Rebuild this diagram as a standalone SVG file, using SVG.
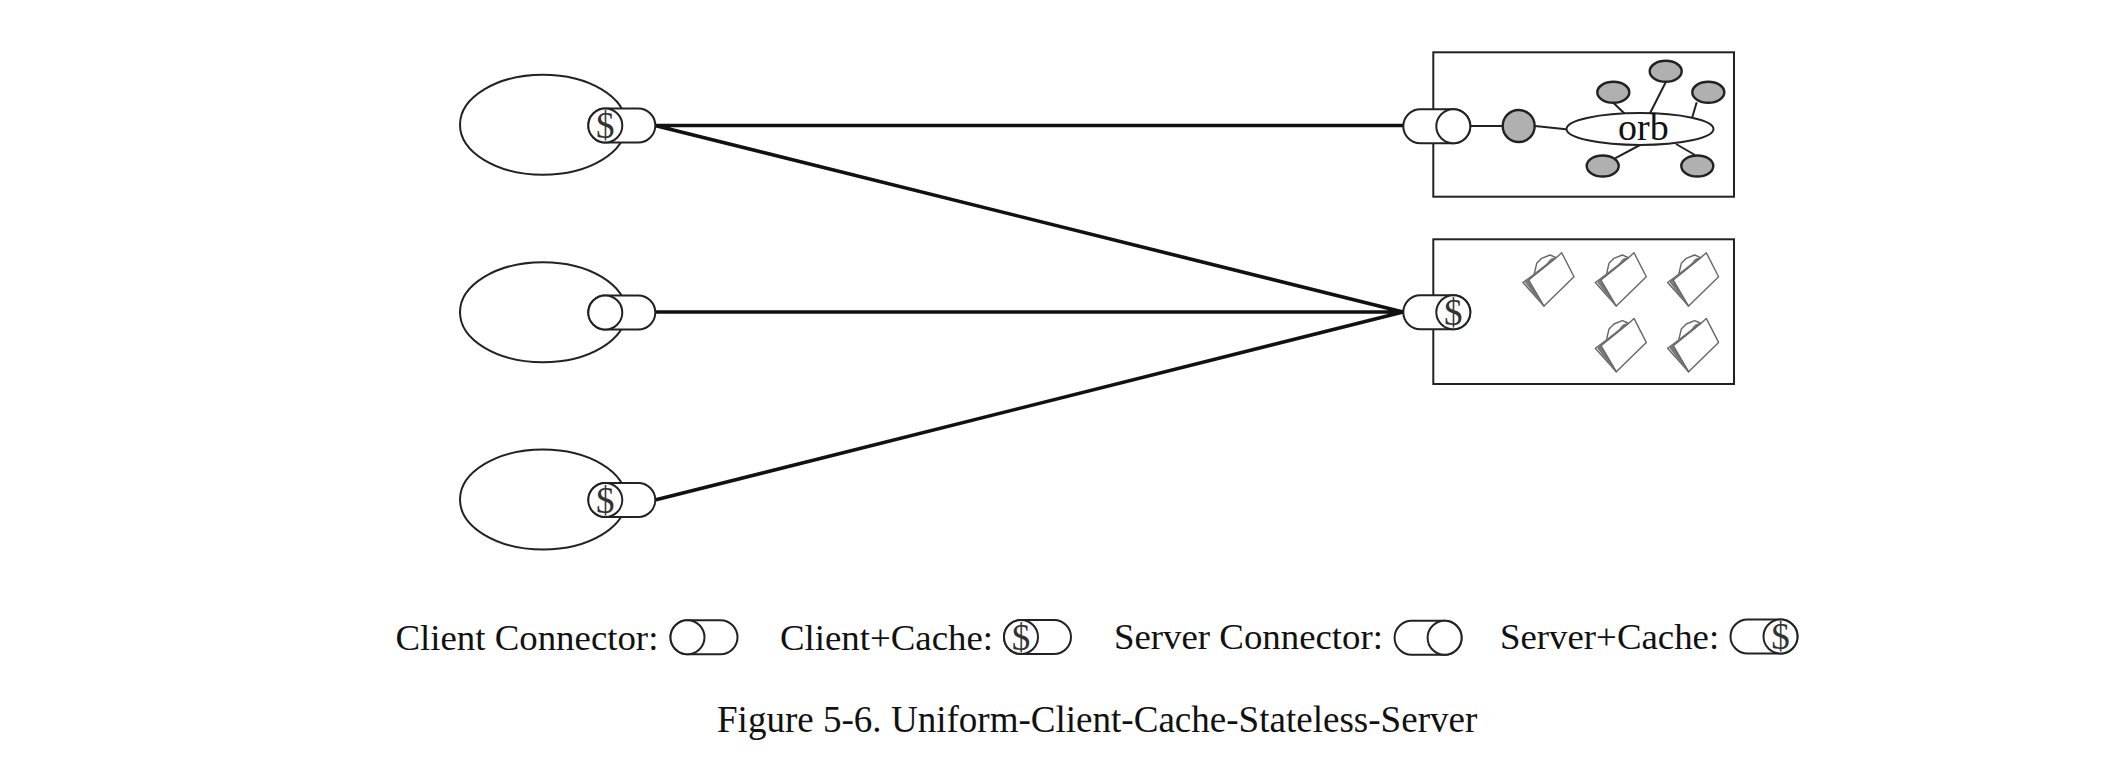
<svg xmlns="http://www.w3.org/2000/svg" width="2116" height="781" viewBox="0 0 2116 781">
<style>
text{font-family:"Liberation Serif","Times New Roman",serif;font-size:37.05px;fill:#111}
.k{font-size:36.85px}
.s{fill:none;stroke:#222;stroke-width:2}
.w{fill:#fff;stroke:#222;stroke-width:2}
.g{fill:#b0b0b0;stroke:#222;stroke-width:2.4}
.l{fill:none;stroke:#222;stroke-width:2}
.c{fill:none;stroke:#111;stroke-width:3.6}
.d{text-anchor:middle;font-size:37px;fill:#333}
.o{font-size:38px}
.f{fill:#fff;stroke:#666;stroke-width:1.4;stroke-linejoin:round}
.f2{fill:none;stroke:#777;stroke-width:2}
</style>
<defs>
<g id="cc"><rect class="w" x="-17" y="-17" width="67" height="34" rx="17"/><circle class="w" r="17"/></g>
<g id="sc"><rect class="w" x="-50" y="-17" width="67" height="34" rx="17"/><circle class="w" r="17"/></g>
<text id="dollar" class="d" x="0" y="12.5">$</text>
<g id="folder">
<path class="f" d="M-10-31L-7.3-42.7Q-4-46-2.3-47.7L6-51 11.7-48.7 14-44 8-36Z"/>
<path class="f2" d="M3-41Q8-50 13-46"/>
<path class="f" d="M-21-23.5L0 0 10-46Z"/>
<path class="f2" d="M-18.5-24.5L0 0M-18.5-24.5L10.5-47.5M-16.5-25.5L0 0M-16.5-25.5L11-48"/>
<path class="f" d="M17.7-53.3L30-29.3 0 0-15.3-26 11.7-47.7Z"/>
</g>
</defs>
<rect width="2116" height="781" fill="#fff"/>
<g id="connectors">
<path class="c" d="M655 125.5H1403M655 125.5L1403 312M655 312H1403M655 500L1403 312"/>
</g>
<g id="client1"><ellipse class="w" cx="543" cy="124.7" rx="83" ry="50"/><use href="#cc" x="605.3" y="125.5"/><use href="#dollar" x="605.3" y="125.5"/></g>
<g id="client2"><ellipse class="w" cx="543" cy="312.2" rx="83" ry="50"/><use href="#cc" x="605.3" y="312.5"/></g>
<g id="client3"><ellipse class="w" cx="543" cy="499.5" rx="83" ry="50"/><use href="#cc" x="605.3" y="500"/><use href="#dollar" x="605.3" y="500"/></g>
<g id="server1">
<rect class="s" x="1433.3" y="52.3" width="300.7" height="144.4"/>
<use href="#sc" x="1453.3" y="126.3"/>
<path class="l" d="M1470 126H1502.7M1535 126L1566 129.3M1613.3 102.7L1625 114M1665.7 82.3L1650 113.3M1696.7 102.3L1692 118.3M1615 158.3L1640 145M1695 155L1676 144"/>
<circle class="g" cx="1518.7" cy="126" r="16"/>
<ellipse class="w" cx="1640" cy="129" rx="73.5" ry="16"/>
<ellipse class="g" cx="1613.3" cy="92.3" rx="16" ry="10.5"/>
<ellipse class="g" cx="1665.7" cy="71.3" rx="16" ry="10.5"/>
<ellipse class="g" cx="1708.3" cy="92.3" rx="16" ry="10.5"/>
<ellipse class="g" cx="1602.7" cy="166" rx="16" ry="10.5"/>
<ellipse class="g" cx="1697.3" cy="166" rx="16" ry="10.5"/>
<text class="o" x="1618" y="139.5">orb</text>
</g>
<g id="server2">
<rect class="s" x="1433.3" y="239.3" width="300.7" height="144.7"/>
<use href="#sc" x="1453.3" y="312.3"/>
<use href="#dollar" x="1453.3" y="312.3"/>
<use href="#folder" x="1544" y="306"/>
<use href="#folder" x="1616.3" y="306"/>
<use href="#folder" x="1688.6" y="306"/>
<use href="#folder" x="1616.3" y="371.7"/>
<use href="#folder" x="1688.6" y="371.7"/>
</g>
<g id="legend">
<text class="k" x="395.5" y="650">Client Connector:</text>
<use href="#cc" x="687.5" y="637.2"/>
<text class="k" x="780" y="650">Client+Cache:</text>
<use href="#cc" x="1021" y="637"/><use href="#dollar" x="1021" y="637"/>
<text class="k" x="1114" y="649">Server Connector:</text>
<use href="#sc" x="1444.6" y="637.8"/>
<text class="k" x="1500" y="649">Server+Cache:</text>
<use href="#sc" x="1780.5" y="636.5"/><use href="#dollar" x="1780.5" y="636.5"/>
</g>
<text id="caption" x="717" y="731.7">Figure 5-6. Uniform-Client-Cache-Stateless-Server</text>
</svg>
